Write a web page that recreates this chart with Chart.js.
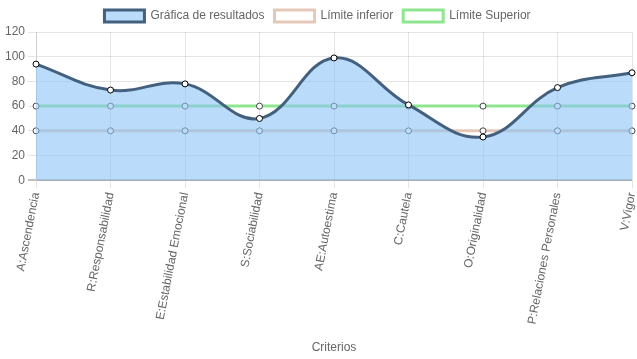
<!DOCTYPE html>
<html>
<head>
<meta charset="utf-8">
<script src="https://cdn.jsdelivr.net/npm/chart.js@4/dist/chart.umd.min.js"></script>
<style>
  html, body { margin: 0; padding: 0; background: #fff; }
  #wrap { width: 637px; height: 359px; }
</style>
</head>
<body>
<div id="wrap"><canvas id="chart"></canvas></div>
<script>
// Criterios y valores
var criterios = ['A:Ascendencia', 'R:Responsabilidad', 'E:Estabilidad Emocional', 'S:Sociabilidad',
  'AE:Autoestima', 'C:Cautela', 'O:Originalidad', 'P:Relaciones Personales', 'V:Vigor'];
var resultados = [94, 73, 78, 50, 99, 61, 35, 75, 87];
var limiteInferior = [40, 40, 40, 40, 40, 40, 40, 40, 40];
var limiteSuperior = [60, 60, 60, 60, 60, 60, 60, 60, 60];
var yTicks = { min: 0, max: 120, step: 20 };

Chart.defaults.font.family = '"Liberation Sans", Arial, sans-serif';
Chart.defaults.font.size = 12;
Chart.defaults.color = '#666';

new Chart(document.getElementById('chart').getContext('2d'), {
  type: 'line',
  data: {
    labels: criterios,
    datasets: [{
      label: 'Gráfica de resultados',
      data: resultados,
      borderColor: '#43617f',
      backgroundColor: 'rgba(140,195,245,0.6)',
      borderWidth: 3,
      fill: 'origin',
      tension: 0.4,
      pointRadius: 3,
      pointBorderWidth: 1,
      pointBackgroundColor: '#fff',
      pointBorderColor: '#000'
    }, {
      label: 'Límite inferior',
      data: limiteInferior,
      borderColor: 'rgba(225,195,180,0.9)',
      backgroundColor: '#fff',
      borderWidth: 3,
      fill: false,
      pointRadius: 3,
      pointBorderWidth: 1,
      pointBackgroundColor: '#fff',
      pointBorderColor: '#444'
    }, {
      label: 'Límite Superior',
      data: limiteSuperior,
      borderColor: 'rgba(144,230,144,1)',
      backgroundColor: '#fff',
      borderWidth: 3,
      fill: false,
      pointRadius: 3,
      pointBorderWidth: 1,
      pointBackgroundColor: '#fff',
      pointBorderColor: '#444'
    }]
  },
  options: {
    responsive: true,
    maintainAspectRatio: false,
    animation: false,
    layout: { padding: { left: 2, right: 4, top: 0, bottom: 2 } },
    plugins: {
      legend: {
        position: 'top',
        labels: { boxWidth: 40, boxHeight: 12, padding: 10 }
      },
      tooltip: { enabled: false }
    },
    scales: {
      x: {
        offset: false,
        grid: { color: 'rgba(0,0,0,0.1)' },
        ticks: { minRotation: 79, maxRotation: 79, autoSkip: false },
        title: { display: true, text: 'Criterios', padding: { top: 12, bottom: 2 } },
        // the last rotated label may hang past the edge, as in the original
        afterFit: function (scale) { scale.paddingRight = 0; }
      },
      y: {
        min: yTicks.min,
        max: yTicks.max,
        ticks: { stepSize: yTicks.step },
        grid: {
          color: function (ctx) { return ctx.tick && ctx.tick.value === 0 ? 'rgba(0,0,0,0.25)' : 'rgba(0,0,0,0.1)'; },
          lineWidth: function (ctx) { return ctx.tick && ctx.tick.value === 0 ? 2 : 1; }
        }
      }
    }
  }
});
</script>
</body>
</html>
